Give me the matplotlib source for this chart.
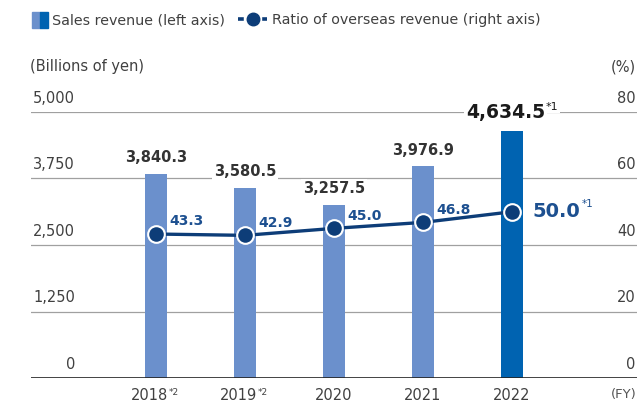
import matplotlib
matplotlib.use("Agg")
import matplotlib.pyplot as plt
from matplotlib.patches import Patch
from matplotlib.lines import Line2D
from matplotlib.legend_handler import HandlerTuple

plt.rcParams['font.family'] = ['DejaVu Sans']

# data
years = ["2018", "2019", "2020", "2021", "2022"]
year_notes = ["*2", "*2", "", "", ""]
sales = [3840.3, 3580.5, 3257.5, 3976.9, 4634.5]
ratio = [43.3, 42.9, 45.0, 46.8, 50.0]
left_ticks = [0, 1250, 2500, 3750, 5000]
right_ticks = [0, 20, 40, 60, 80]

light_blue = "#6b90cc"
dark_blue = "#0063b1"
navy = "#0d3d78"
pct_col = "#1d5090"
txt = "#404040"

W, H = 637, 403
fig = plt.figure(figsize=(W / 100, H / 100), dpi=100)
ax_l, ax_r, ax_b, ax_t = 31, 637, 378, 112
ax = fig.add_axes([ax_l / W, (H - ax_b) / H, (ax_r - ax_l) / W, (ax_b - ax_t) / H])

x = list(range(len(years)))
cols = [light_blue] * (len(years) - 1) + [dark_blue]
ax.bar(x, sales, width=22 / 89, color=cols, zorder=2)
ax.set_xlim((ax_l - 156) / 89, (ax_r - 156) / 89)
ax.set_ylim(0, 5000)

for s in ax.spines.values():
    s.set_visible(False)
ax.set_xticks([])
ax.set_yticks([])
for v in left_ticks[1:]:
    ax.axhline(v, color="#a0a0a0", lw=0.9, zorder=1)
ax.axhline(0, color="#222222", lw=1.2, zorder=3)

lab_frac = (75 - ax_l) / (ax_r - ax_l)
for v in left_ticks:
    ax.annotate(f"{v:,}", xy=(lab_frac, v), xycoords=("axes fraction", "data"),
                xytext=(0, 4.5), textcoords="offset points", ha="right", va="bottom",
                fontsize=10.5, color=txt)

ax2 = ax.twinx()
ax2.set_ylim(0, 80)
ax2.set_yticks([])
for s in ax2.spines.values():
    s.set_visible(False)
for v in right_ticks:
    ax2.annotate(f"{v}", xy=(0.998, v), xycoords=("axes fraction", "data"),
                 xytext=(0, 4.5), textcoords="offset points", ha="right", va="bottom",
                 fontsize=10.5, color=txt)

ax2.plot(x, ratio, color=navy, lw=2.4, marker="o", ms=12, mfc=navy,
         mec="white", mew=1.5, zorder=5)

# bar value labels
bb = dict(facecolor="white", edgecolor="none", pad=1.5)
for i, v in enumerate(sales[:-1]):
    ax.annotate(f"{v:,.1f}", xy=(i, v), xytext=(0, 6), textcoords="offset points",
                ha="center", va="bottom", fontsize=10.5, fontweight="bold",
                color="#333333", bbox=bb, zorder=4)
last = len(sales) - 1
ax.annotate(f"{sales[last]:,.1f}", xy=(last, sales[last]),
            xytext=(24, 6.5), textcoords="offset points", ha="right", va="bottom",
            fontsize=13.5, fontweight="bold", color="#1a1a1a", bbox=bb, zorder=4)
ax.annotate("*1", xy=(last, sales[last]), xytext=(24.5, 14), textcoords="offset points",
            ha="left", va="bottom", fontsize=8, color="#1a1a1a",
            bbox=dict(facecolor="white", edgecolor="none", pad=1), zorder=4)

# ratio labels
for i, v in enumerate(ratio[:-1]):
    ax2.annotate(f"{v:.1f}", xy=(i, v), xytext=(9.5, 4), textcoords="offset points",
                 ha="left", va="bottom", fontsize=10, fontweight="bold",
                 color=pct_col, zorder=6)
ax2.annotate(f"{ratio[last]:.1f}", xy=(last, ratio[last]), xytext=(14.4, 0),
             textcoords="offset points", ha="left", va="center", fontsize=14,
             fontweight="bold", color=pct_col, zorder=6)
ax2.annotate("*1", xy=(last, ratio[last]), xytext=(50, 2),
             textcoords="offset points", ha="left", va="bottom", fontsize=7.5,
             color=pct_col, zorder=6)

# x labels
for i, (y, n) in enumerate(zip(years, year_notes)):
    shift = -4.5 if n else 0
    ax.annotate(y, xy=(i, 0), xytext=(shift, -7.5),
                textcoords="offset points", ha="center", va="top",
                fontsize=10.5, color=txt)
    if n:
        ax.annotate(n, xy=(i, 0), xytext=(9, -7), textcoords="offset points",
                    ha="left", va="top", fontsize=6.5, color=txt)
ax.annotate("(FY)", xy=(1.0, 0), xycoords=("axes fraction", "data"),
            xytext=(0, -7.5), textcoords="offset points", ha="right", va="top",
            fontsize=9.5, color="#555555")

fig.text(30 / W, 1 - 67 / H, "(Billions of yen)", fontsize=10.5, color=txt, va="center")
fig.text(0.999, 1 - 67 / H, "(%)", fontsize=10.5, color=txt, va="center", ha="right")

# legend
leg_kw = dict(loc="center left", frameon=False, fontsize=10.3, labelcolor=txt,
              handletextpad=0.3, borderpad=0, borderaxespad=0)
fig.legend([(Patch(color=light_blue), Patch(color=dark_blue))],
           ["Sales revenue (left axis)"],
           handler_map={tuple: HandlerTuple(ndivide=None, pad=0.0)},
           bbox_to_anchor=(32 / W, 1 - 20 / H), handlelength=1.1,
           handleheight=1.3, **leg_kw)
fig.legend([Line2D([], [], color=navy, lw=2.6, ls=(0, (1.6, 5.1)), marker="o", ms=9,
                   mfc=navy, mec=navy)],
           ["Ratio of overseas revenue (right axis)"],
           bbox_to_anchor=(238 / W, 1 - 20 / H), handlelength=2.06, **leg_kw)

fig.savefig("out.png", dpi=100)
